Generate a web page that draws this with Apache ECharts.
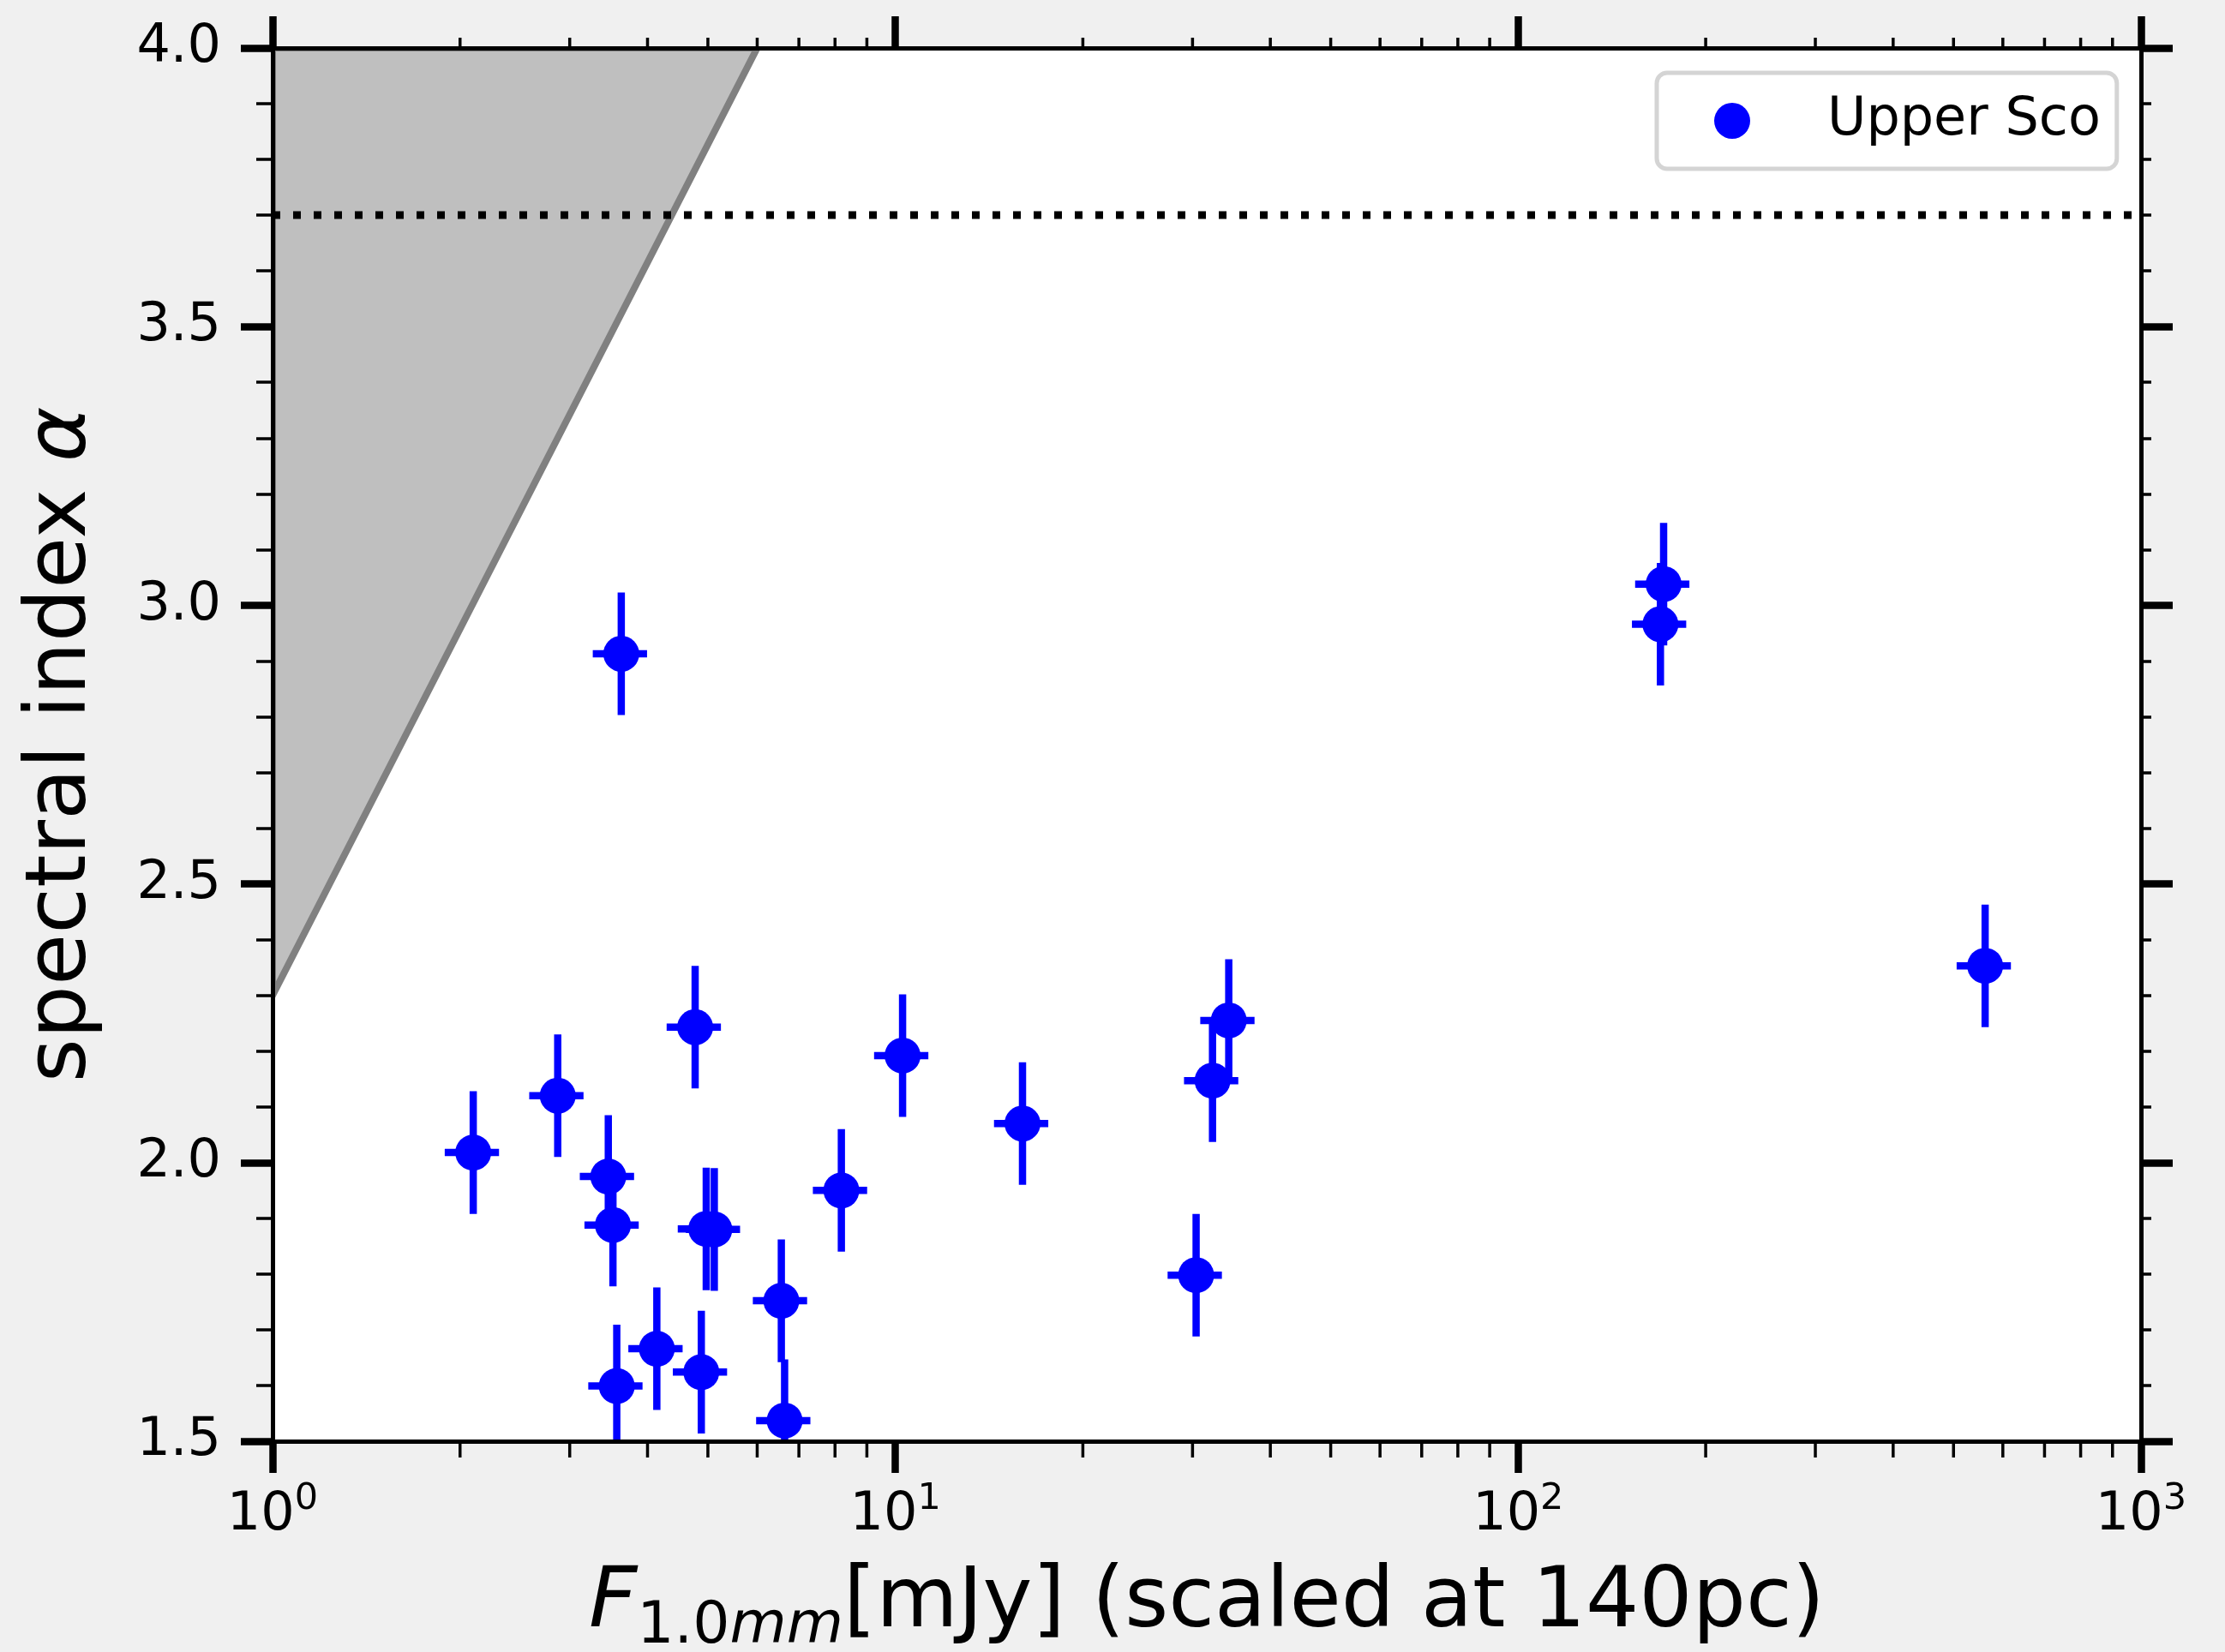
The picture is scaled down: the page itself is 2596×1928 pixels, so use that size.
<!DOCTYPE html>
<html>
<head>
<meta charset="utf-8">
<script src="https://cdn.jsdelivr.net/npm/echarts@6/dist/echarts.min.js"></script>
<style>
  html, body { margin: 0; padding: 0; background: #f0f0f0; }
  #chart { width: 2596px; height: 1928px; }
</style>
</head>
<body>
<div id="chart"></div>
<script>
// 1.0 mm flux densities (mJy, scaled to 140 pc) of the Upper Sco discs
const fluxMJy = [2.10, 2.87, 3.46, 3.52, 3.63, 3.57, 4.14, 4.77, 4.88, 4.97, 5.12,
                 6.56, 6.64, 8.19, 10.27, 16.0, 30.4, 32.3, 34.3, 171.2, 169.2, 562];
// millimetre spectral index of each source
const specIndex = [2.018, 2.120, 1.975, 1.888, 2.913, 1.599, 1.666, 2.243, 1.624, 1.881, 1.880,
                   1.752, 1.537, 1.950, 2.192, 2.070, 1.798, 2.147, 2.255, 3.038, 2.966, 2.353];
// uncertainty on the spectral index
const specIndexErr = [0.11, 0.11, 0.11, 0.11, 0.11, 0.11, 0.11, 0.11, 0.11, 0.11, 0.11,
                      0.11, 0.11, 0.11, 0.11, 0.11, 0.11, 0.11, 0.11, 0.11, 0.11, 0.11];
// relative flux calibration uncertainty
const fluxCalibErr = 0.10;

// excluded (shaded) region boundary: alpha rises with log flux
const shadeFlux = [1.0, 6.0];
const shadeAlpha = [2.30, 4.0];
// reference spectral index (dotted line)
const refAlpha = 3.7;

// axis ranges and tick values
const xRange = [1, 1000];
const yRange = [1.5, 4.0];
const yStep = 0.5;
const xMinorTicks = [2, 3, 4, 5, 6, 7, 8, 9, 20, 30, 40, 50, 60, 70, 80, 90,
                     200, 300, 400, 500, 600, 700, 800, 900];

const FONT = 'DejaVu Sans';
const BLUE = '#0000ff';

const chart = echarts.init(document.getElementById('chart'), null, { renderer: 'canvas' });

function expLabel(v) {
  const e = Math.round(Math.log10(v));
  return '{b|10}{s|' + e + '}';
}

const tickLabelRich = {
  b: { fontSize: 62, fontFamily: FONT, color: '#000' },
  s: { fontSize: 43, fontFamily: FONT, color: '#000', padding: [0, 0, 38, 0] }
};

const commonX = {
  type: 'log', logBase: 10, min: xRange[0], max: xRange[1],
  axisLine: { show: true, onZero: false, lineStyle: { color: '#000', width: 5 } },
  axisTick: { show: true, inside: false, length: 37, lineStyle: { color: '#000', width: 8.5 } },
  splitLine: { show: false },
  minorTick: { show: false },
  z: 10
};
const commonY = {
  type: 'value', min: yRange[0], max: yRange[1], interval: yStep,
  axisLine: { show: true, onZero: false, lineStyle: { color: '#000', width: 5 } },
  axisTick: { show: true, inside: false, length: 37, lineStyle: { color: '#000', width: 8.5 } },
  splitLine: { show: false },
  z: 10
};

const option = {
  animation: false,
  backgroundColor: '#f0f0f0',
  textStyle: { fontFamily: FONT },
  grid: {
    left: 318, top: 56, width: 2180, height: 1626,
    outerBoundsMode: 'none',
    containLabel: false,
    show: true, backgroundColor: '#ffffff', borderWidth: 0
  },
  legend: {
    data: ['Upper Sco'],
    left: 1933, top: 85,
    orient: 'vertical',
    icon: 'circle',
    itemWidth: 42, itemHeight: 42,
    padding: [25, 19, 25, 67],
    backgroundColor: '#ffffff',
    borderColor: '#d4d4d4', borderWidth: 5, borderRadius: 12,
    textStyle: { fontSize: 62, fontFamily: FONT, color: '#000', padding: [0, 0, 0, 85] },
    selectedMode: false,
    z: 20
  },
  xAxis: [
    Object.assign({}, commonX, {
      position: 'bottom',
      axisLabel: { show: true, margin: 46, formatter: expLabel, rich: tickLabelRich },
      name: '{it|F}{sub|1.0}{subit|mm}[mJy] (scaled at 140pc)',
      nameLocation: 'middle',
      nameGap: 131,
      nameTextStyle: {
        fontSize: 98, fontFamily: FONT, color: '#000',
        rich: {
          it: { fontSize: 98, fontFamily: FONT, fontStyle: 'italic', color: '#000' },
          sub: { fontSize: 68, fontFamily: FONT, color: '#000', padding: [52, 0, 0, 0] },
          subit: { fontSize: 68, fontFamily: FONT, fontStyle: 'italic', color: '#000', padding: [52, 0, 0, 0] }
        }
      }
    }),
    Object.assign({}, commonX, {
      position: 'top',
      axisLabel: { show: false }
    })
  ],
  yAxis: [
    Object.assign({}, commonY, {
      position: 'left',
      minorTick: { show: true, splitNumber: 5, length: 19, lineStyle: { color: '#000', width: 3.5 } },
      axisLabel: {
        show: true, margin: 60, fontSize: 62, fontFamily: FONT, color: '#000',
        formatter: v => v.toFixed(1)
      },
      name: 'spectral index {it|α}',
      nameLocation: 'middle',
      nameRotate: 90,
      nameGap: 195,
      nameTextStyle: {
        fontSize: 98, fontFamily: FONT, color: '#000',
        rich: { it: { fontSize: 98, fontFamily: FONT, fontStyle: 'italic', color: '#000' } }
      }
    }),
    Object.assign({}, commonY, {
      position: 'right',
      minorTick: { show: true, splitNumber: 5, length: 12, lineStyle: { color: '#000', width: 3.5 } },
      axisLabel: { show: false }
    })
  ],
  series: [
    {
      // shaded region above the boundary line
      type: 'custom',
      xAxisIndex: 0, yAxisIndex: 0,
      silent: true,
      clip: true,
      z: 1,
      encode: { x: [0, 2], y: [1, 3] },
      data: [[shadeFlux[0], shadeAlpha[0], shadeFlux[1], shadeAlpha[1]]],
      renderItem: function (params, api) {
        const p0 = api.coord([api.value(0), api.value(1)]);
        const p1 = api.coord([api.value(2), api.value(3)]);
        const corner = api.coord([api.value(0), api.value(3)]);
        return {
          type: 'polygon',
          shape: { points: [p0, p1, corner] },
          style: { fill: '#bfbfbf', stroke: '#808080', lineWidth: 8, lineJoin: 'miter' }
        };
      }
    },
    {
      // reference spectral index
      type: 'line',
      xAxisIndex: 0, yAxisIndex: 0,
      silent: true,
      symbol: 'none',
      z: 2,
      data: [[xRange[0], refAlpha], [xRange[1], refAlpha]],
      lineStyle: { color: '#000', width: 9, type: [9, 15], cap: 'butt' }
    },
    {
      // error bars
      type: 'custom',
      xAxisIndex: 0, yAxisIndex: 0,
      silent: true,
      clip: true,
      z: 3,
      encode: { x: 0, y: 1 },
      data: fluxMJy.map((f, i) => [f, specIndex[i], specIndexErr[i]]),
      renderItem: function (params, api) {
        const f = api.value(0), a = api.value(1), ea = api.value(2);
        const l = api.coord([f * (1 - fluxCalibErr), a]);
        const r = api.coord([f * (1 + fluxCalibErr), a]);
        const t = api.coord([f, a + ea]);
        const b = api.coord([f, a - ea]);
        const style = { stroke: BLUE, lineWidth: 8.5, lineCap: 'butt' };
        return {
          type: 'group',
          children: [
            { type: 'line', shape: { x1: l[0], y1: l[1], x2: r[0], y2: r[1] }, style: style },
            { type: 'line', shape: { x1: t[0], y1: t[1], x2: b[0], y2: b[1] }, style: style }
          ]
        };
      }
    },
    {
      name: 'Upper Sco',
      type: 'scatter',
      xAxisIndex: 0, yAxisIndex: 0,
      symbol: 'circle',
      symbolSize: 42,
      itemStyle: { color: BLUE, opacity: 1 },
      z: 4,
      data: fluxMJy.map((f, i) => [f, specIndex[i]])
    },
    {
      // minor ticks of the logarithmic flux axis (bottom and top)
      type: 'custom',
      xAxisIndex: 0, yAxisIndex: 0,
      silent: true,
      clip: false,
      z: 11,
      encode: { x: 0, y: 1 },
      data: xMinorTicks.map(v => [v, yRange[0]]),
      renderItem: function (params, api) {
        const v = api.value(0);
        const b = api.coord([v, yRange[0]]);
        const t = api.coord([v, yRange[1]]);
        const style = { stroke: '#000', lineWidth: 3.5, lineCap: 'butt' };
        return {
          type: 'group',
          children: [
            { type: 'line', shape: { x1: b[0], y1: b[1], x2: b[0], y2: b[1] + 19 }, style: style },
            { type: 'line', shape: { x1: t[0], y1: t[1], x2: t[0], y2: t[1] - 12 }, style: style }
          ]
        };
      }
    }
  ]
};

chart.setOption(option);
</script>
</body>
</html>
